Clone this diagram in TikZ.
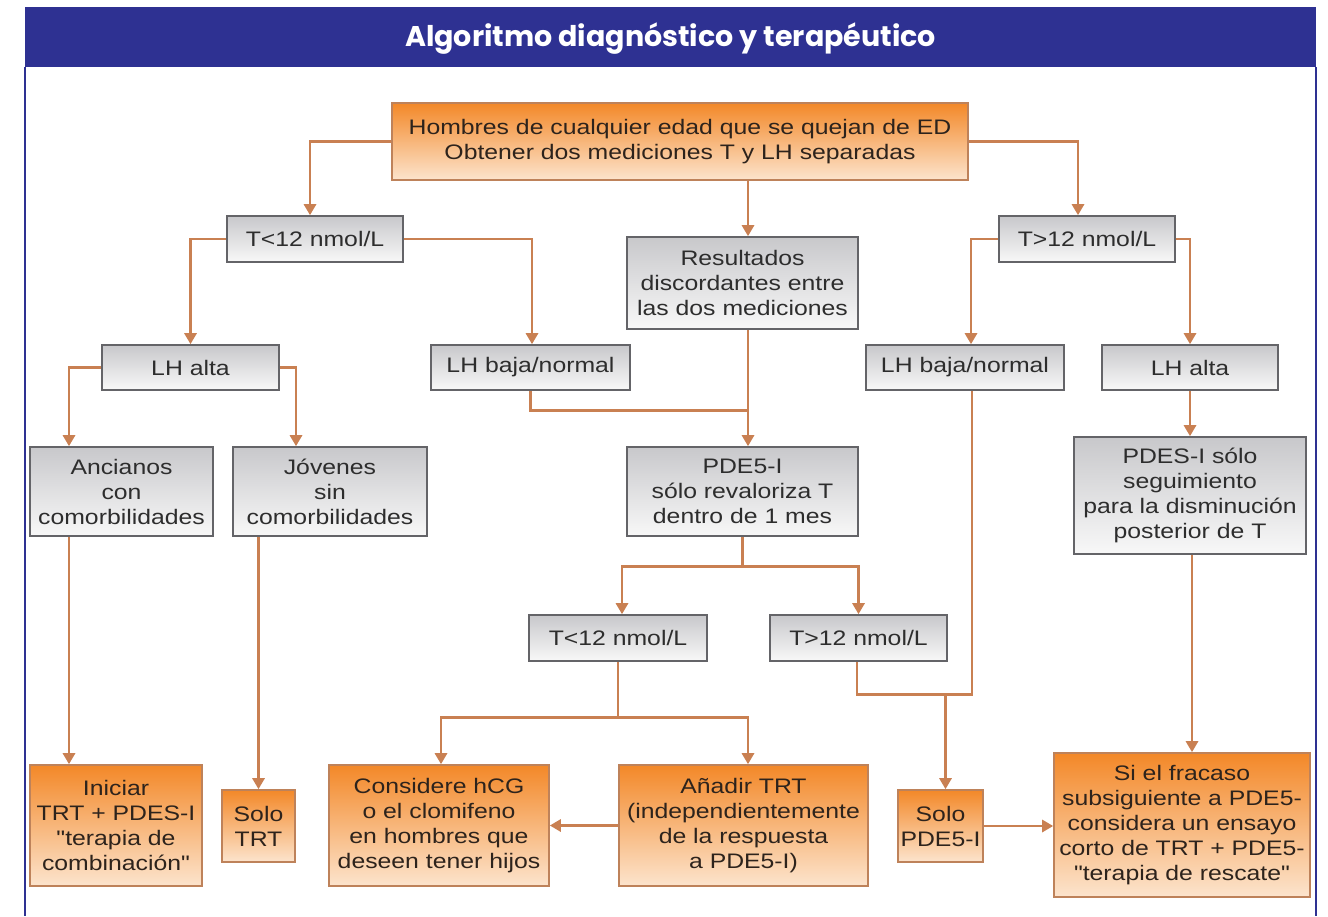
\documentclass[tikz,border=0pt]{standalone}
\usepackage{fontspec}
\setmainfont{Liberation Sans}[FakeStretch=1.18, Ligatures=TeXOff]
\newfontfamily\titlefont{Poppins}
\usetikzlibrary{arrows.meta}
\definecolor{barblue}{RGB}{46,49,146}
\definecolor{lineor}{RGB}{201,128,82}
\definecolor{orborder}{RGB}{190,130,90}
\definecolor{ortop}{RGB}{243,136,40}
\definecolor{orbot}{RGB}{252,228,205}
\definecolor{grtop}{RGB}{200,200,203}
\definecolor{grbot}{RGB}{248,248,248}
\definecolor{grborder}{RGB}{100,100,104}
\definecolor{txtg}{RGB}{45,45,45}
\definecolor{txto}{RGB}{45,35,28}
\tikzset{
  box/.style={align=center, inner sep=0pt, line width=1.6pt,
    font=\fontsize{21}{25}\selectfont},
  gbox/.style={box, draw=grborder, top color=grtop, bottom color=grbot, text=txtg},
  obox/.style={box, draw=orborder, top color=ortop, bottom color=orbot, text=txto},
  conn/.style={draw=lineor, line width=2.8pt},
  arr/.style={conn, -{Triangle[length=11pt,width=12pt]}},
}
\begin{document}
\begin{tikzpicture}[x=1pt,y=-1pt]
\useasboundingbox (0,0) rectangle (1328,916);
\fill[white] (0,0) rectangle (1328,916);
% frame
\fill[barblue] (25,7) rectangle (1316,67);
\draw[barblue, line width=2pt] (25,67) -- (25,916);
\draw[barblue, line width=2pt] (1316,67) -- (1316,916);
\node[text=white, font=\titlefont\bfseries\fontsize{28.5}{32}\selectfont] (title) at (670.5,39) {Algoritmo diagnóstico y terapéutico};

% nodes
\node[obox, minimum width=576pt, minimum height=77pt] (top) at (680,141.5)
  {Hombres de cualquier edad que se quejan de ED\\Obtener dos mediciones T y LH separadas};
\node[gbox, minimum width=176pt, minimum height=46pt] (tl) at (315,239) {T<12 nmol/L};
\node[gbox, minimum width=231pt, minimum height=92pt] (res) at (742.5,283)
  {Resultados\\discordantes entre\\las dos mediciones};
\node[gbox, minimum width=176pt, minimum height=46pt] (tr) at (1087,239) {T>12 nmol/L};
\node[gbox, minimum width=177pt, minimum height=45pt] (lhal) at (190.5,367.5) {LH alta};
\node[gbox, minimum width=199pt, minimum height=45pt] (lhbl) at (530.5,367.5) {LH baja/normal};
\node[gbox, minimum width=198pt, minimum height=45pt] (lhbr) at (965,367.5) {LH baja/normal};
\node[gbox, minimum width=176pt, minimum height=45pt] (lhar) at (1190,367.5) {LH alta};
\node[gbox, minimum width=183pt, minimum height=89pt] (anc) at (121.5,491.5)
  {Ancianos\\con\\comorbilidades};
\node[gbox, minimum width=194pt, minimum height=89pt] (jov) at (330,491.5)
  {Jóvenes\\sin\\comorbilidades};
\node[gbox, minimum width=231pt, minimum height=89pt] (pde) at (742.5,491.5)
  {PDE5-I\\sólo revaloriza T\\dentro de 1 mes};
\node[gbox, minimum width=232pt, minimum height=117pt] (pdes) at (1190,495.5)
  {PDES-I sólo\\seguimiento\\para la disminución\\posterior de T};
\node[gbox, minimum width=178pt, minimum height=46pt] (tlm) at (618,638) {T<12 nmol/L};
\node[gbox, minimum width=177pt, minimum height=46pt] (trm) at (858.5,638) {T>12 nmol/L};
\node[obox, minimum width=172pt, minimum height=121pt] (ini) at (116,825.5)
  {Iniciar\\TRT + PDES-I\\"terapia de\\combinación"};
\node[obox, minimum width=73pt, minimum height=72pt] (stt) at (258.5,826) {Solo\\TRT};
\node[obox, minimum width=220pt, minimum height=121pt] (con) at (439,825.5)
  {Considere hCG\\o el clomifeno\\en hombres que\\deseen tener hijos};
\node[obox, minimum width=249pt, minimum height=121pt] (ana) at (743.5,825.5)
  {Añadir TRT\\(independientemente\\de la respuesta\\a PDE5-I)};
\node[obox, minimum width=85pt, minimum height=72pt] (spd) at (940.5,826) {Solo\\PDE5-I};
\node[obox, minimum width=256pt, minimum height=144pt] (sif) at (1182,825)
  {Si el fracaso\\subsiguiente a PDE5-\\considera un ensayo\\corto de TRT + PDE5-\\"terapia de rescate"};

% connectors
\draw[arr] (top.west) -| ([xshift=-5pt]tl.north);
\draw[arr] (top.east) -| ([xshift=-9pt]tr.north);
\draw[arr] ([xshift=5.5pt]res.north |- top.south) -- ([xshift=5.5pt]res.north);
\draw[arr] (tl.west) -| (lhal.north);
\draw[arr] (tl.east) -| ([xshift=1.5pt]lhbl.north);
\draw[arr] (tr.west) -| ([xshift=6pt]lhbr.north);
\draw[arr] (tr.east) -| (lhar.north);
\draw[arr] (lhal.west) -| ([xshift=-52.5pt]anc.north);
\draw[arr] (lhal.east) -| ([xshift=-34pt]jov.north);
\draw[conn] (lhbl.south) -- ++(0,20) coordinate (j1) -- ([xshift=5.5pt]j1 -| res.south);
\draw[arr] ([xshift=5.5pt]res.south) -- ([xshift=5.5pt]pde.north);
\draw[conn] (pde.south) -- ++(0,30) coordinate (j2);
\draw[arr] (j2) -| ([xshift=4pt]tlm.north);
\draw[arr] (j2) -| (trm.north);
\draw[conn] (tlm.south) -- ++(0,56) coordinate (j3);
\draw[arr] (j3) -| ([xshift=2pt]con.north);
\draw[arr] (j3) -| ([xshift=4.5pt]ana.north);
\draw[conn] ([xshift=7pt]lhbr.south) -- ++(0,304) coordinate (j4) -| ([xshift=-1.5pt]trm.south);
\draw[arr] ([xshift=5pt]spd.north |- j4) -- ([xshift=5pt]spd.north);
\draw[arr] ([xshift=-52.5pt]anc.south) -- ([xshift=-47pt]ini.north);
\draw[arr] (stt.north |- jov.south) -- (stt.north);
\draw[arr] (ana.west) -- (con.east);
\draw[arr] (spd.east) -- (spd.east -| sif.west);
\draw[arr] (lhar.south) -- (pdes.north);
\draw[arr] ([xshift=2pt]pdes.south) -- ([xshift=2pt]pdes.south |- sif.north);
\end{tikzpicture}
\end{document}
